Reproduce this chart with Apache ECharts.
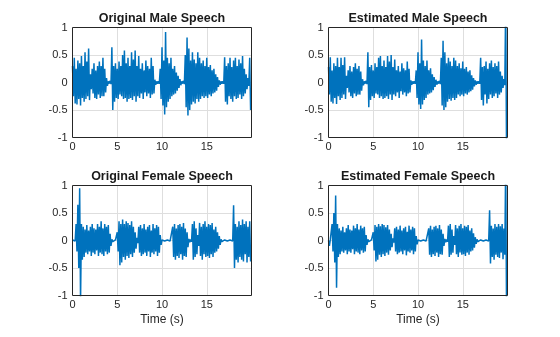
<!DOCTYPE html>
<html>
<head>
<meta charset="utf-8">
<script src="https://cdn.jsdelivr.net/npm/echarts@6/dist/echarts.min.js"></script>
<style>
html,body{margin:0;padding:0;background:#fff;}
#chart{width:560px;height:337px;}
</style>
</head>
<body>
<div id="chart"></div>
<script>
// sample times (s)
const time = [
0,0.1,0.2,0.3,0.4,0.5,0.6,0.7,0.8,0.9,1,1.1,1.2,1.3,1.4,1.5,1.6,1.7,1.8,1.9,
2,2.1,2.2,2.3,2.4,2.5,2.6,2.7,2.8,2.9,3,3.1,3.2,3.3,3.4,3.5,3.6,3.7,3.8,3.9,
4,4.1,4.2,4.3,4.4,4.5,4.6,4.7,4.8,4.9,5,5.1,5.2,5.3,5.4,5.5,5.6,5.7,5.8,5.9,
6,6.1,6.2,6.3,6.4,6.5,6.6,6.7,6.8,6.9,7,7.1,7.2,7.3,7.4,7.5,7.6,7.7,7.8,7.9,
8,8.1,8.2,8.3,8.4,8.5,8.6,8.7,8.8,8.9,9,9.1,9.2,9.3,9.4,9.5,9.6,9.7,9.8,9.9,
10,10.1,10.2,10.3,10.4,10.5,10.6,10.7,10.8,10.9,11,11.1,11.2,11.3,11.4,11.5,11.6,11.7,11.8,11.9,
12,12.1,12.2,12.3,12.4,12.5,12.6,12.7,12.8,12.9,13,13.1,13.2,13.3,13.4,13.5,13.6,13.7,13.8,13.9,
14,14.1,14.2,14.3,14.4,14.5,14.6,14.7,14.8,14.9,15,15.1,15.2,15.3,15.4,15.5,15.6,15.7,15.8,15.9,
16,16.1,16.2,16.3,16.4,16.5,16.6,16.7,16.8,16.9,17,17.1,17.2,17.3,17.4,17.5,17.6,17.7,17.8,17.9,
18,18.1,18.2,18.3,18.4,18.5,18.6,18.7,18.8,18.9,19,19.1,19.2,19.3,19.4,19.5,19.6,19.7,19.8,19.9
];

const originalMale = [
.30,-.25,.45,-.38,.25,-.40,.40,-.30,.35,-.42,.48,-.28,.30,-.35,.55,-.30,.38,-.25,.62,-.32,
.15,-.12,.25,-.20,.35,-.28,.22,-.30,.30,-.22,.38,-.28,.30,-.25,.45,-.25,.25,-.18,.08,-.06,
.02,-.02,.03,-.03,.64,-.50,.30,-.35,.35,-.28,.25,-.30,.38,-.22,.30,-.25,.50,-.30,.58,-.28,
.35,-.35,.45,-.30,.30,-.28,.55,-.32,.42,-.25,.58,-.35,.30,-.25,.48,-.28,.25,-.20,.35,-.30,
.22,-.18,.40,-.25,.30,-.20,.25,-.28,.45,-.22,.30,-.20,.05,-.04,.02,-.02,.02,-.02,.25,-.30,
.64,-.42,.40,-.58,.92,-.45,.45,-.35,.35,-.30,.45,-.25,.25,-.22,.30,-.20,.18,-.15,.12,-.10,
.06,-.05,.02,-.02,.03,-.03,.50,-.45,.82,-.60,.62,-.50,.40,-.40,.55,-.35,.42,-.38,.35,-.30,
.55,-.35,.45,-.30,.35,-.25,.40,-.28,.30,-.25,.45,-.28,.28,-.22,.32,-.25,.22,-.20,.25,-.18,
.15,-.15,.10,-.08,.04,-.04,.02,-.02,.02,-.02,.46,-.35,.30,-.40,.35,-.25,.45,-.30,.28,-.35,
.40,-.25,.45,-.30,.30,-.28,.42,-.22,.35,-.30,.48,-.25,.25,-.20,.15,-.12,.08,-.06,.45,-.50
];

const estimatedMale = [
.28,-.22,.46,-.35,.22,-.38,.35,-.28,.30,-.39,.45,-.25,.28,-.32,.45,-.28,.32,-.22,.46,-.30,
.12,-.10,.22,-.18,.30,-.25,.20,-.28,.28,-.20,.35,-.25,.25,-.22,.30,-.22,.20,-.15,.06,-.05,
.02,-.02,.03,-.03,.55,-.45,.28,-.32,.32,-.25,.22,-.28,.35,-.20,.28,-.22,.45,-.28,.48,-.25,
.30,-.30,.40,-.28,.28,-.25,.48,-.30,.38,-.22,.50,-.32,.28,-.22,.42,-.25,.22,-.18,.30,-.28,
.20,-.16,.35,-.22,.26,-.18,.22,-.25,.38,-.20,.25,-.18,.04,-.04,.02,-.02,.02,-.02,.22,-.28,
.55,-.40,.35,-.48,.78,-.40,.40,-.32,.30,-.28,.40,-.22,.22,-.20,.26,-.18,.15,-.14,.10,-.08,
.05,-.04,.02,-.02,.03,-.03,.45,-.42,.76,-.50,.55,-.45,.35,-.35,.45,-.30,.38,-.33,.30,-.28,
.45,-.32,.40,-.28,.30,-.22,.35,-.25,.26,-.22,.38,-.25,.25,-.20,.28,-.22,.20,-.18,.22,-.16,
.13,-.13,.08,-.07,.04,-.04,.02,-.02,.02,-.02,.45,-.32,.28,-.42,.30,-.22,.38,-.38,.25,-.30,
.35,-.22,.40,-.28,.28,-.25,.35,-.20,.30,-.28,.38,-.22,.20,-.18,.12,-.10,.06,-.05,1.5,-1.5
];

const originalFemale = [
.01,-.01,.01,-.01,.30,-.20,.65,-.50,.95,-1.1,.30,-.35,.25,-.30,.20,-.22,.28,-.25,.18,-.20,
.25,-.28,.30,-.22,.22,-.25,.20,-.18,.30,-.28,.25,-.22,.35,-.25,.22,-.28,.30,-.20,.25,-.25,
.28,-.22,.12,-.10,.02,-.02,.01,-.01,.01,-.01,.15,-.20,.35,-.45,.30,-.40,.38,-.30,.30,-.35,
.35,-.28,.32,-.32,.28,-.25,.35,-.30,.25,-.22,.15,-.15,.05,-.05,.25,-.22,.28,-.28,.22,-.25,
.30,-.22,.20,-.28,.25,-.20,.28,-.30,.18,-.22,.30,-.25,.22,-.20,.28,-.28,.25,-.22,.10,-.08,
.01,-.01,.01,-.01,.01,-.01,.01,-.01,.01,-.01,.01,-.01,.25,-.30,.30,-.35,.22,-.28,.28,-.32,
.30,-.25,.25,-.35,.32,-.28,.22,-.30,.15,-.12,.03,-.03,.02,-.02,.30,-.35,.35,-.30,.22,-.25,
.10,-.10,.32,-.28,.25,-.35,.30,-.25,.35,-.30,.25,-.28,.30,-.32,.28,-.25,.32,-.30,.20,-.22,
.25,-.20,.15,-.15,.08,-.08,.02,-.02,.01,-.01,.01,-.01,.01,-.01,.01,-.01,.01,-.01,.01,-.01,
.64,-.50,.30,-.35,.25,-.40,.35,-.30,.28,-.35,.38,-.38,.30,-.25,.35,-.40,.25,-.30,.35,-.38
];

const estimatedFemale = [
.00,-.10,.01,-.01,.30,-.20,.50,-.40,.82,-.86,.30,-.30,.22,-.25,.18,-.20,.25,-.22,.15,-.18,
.22,-.25,.28,-.20,.20,-.22,.18,-.16,.27,-.25,.22,-.20,.30,-.22,.20,-.25,.27,-.18,.22,-.22,
.25,-.20,.10,-.08,.02,-.02,.01,-.01,.01,-.01,.15,-.18,.28,-.38,.25,-.35,.30,-.26,.26,-.30,
.30,-.25,.28,-.28,.24,-.22,.28,-.26,.20,-.18,.12,-.12,.04,-.04,.22,-.20,.25,-.25,.20,-.22,
.27,-.20,.18,-.25,.22,-.18,.25,-.27,.16,-.20,.27,-.22,.20,-.18,.25,-.25,.22,-.20,.08,-.07,
.01,-.01,.01,-.01,.01,-.01,.01,-.01,.01,-.01,.01,-.01,.22,-.26,.27,-.30,.20,-.25,.25,-.28,
.27,-.22,.22,-.30,.28,-.25,.20,-.26,.12,-.10,.03,-.03,.02,-.02,.27,-.30,.30,-.26,.20,-.22,
.08,-.08,.28,-.25,.22,-.30,.27,-.22,.30,-.26,.22,-.25,.27,-.28,.25,-.22,.28,-.26,.18,-.20,
.22,-.18,.13,-.13,.06,-.06,.02,-.02,.01,-.01,.01,-.01,.01,-.01,.01,-.01,.01,-.01,.01,-.01,
.55,-.42,.27,-.30,.22,-.35,.30,-.26,.25,-.30,.30,-.32,.26,-.22,.30,-.34,.22,-.26,1.5,-1.5
];

const titles = ['Original Male Speech','Estimated Male Speech','Original Female Speech','Estimated Female Speech'];
const xTicks = [0,5,10,15];
const yTicks = [-1,-0.5,0,0.5,1];
const xLabel = 'Time (s)';

const seriesValues = [originalMale, estimatedMale, originalFemale, estimatedFemale];

const FONT = '"Liberation Sans", Arial, Helvetica, sans-serif';
const TXT = '#262626';
const grids = [
  {left:72.5, top:27.5, width:179, height:110},
  {left:328.5, top:27.5, width:179, height:110},
  {left:72.5, top:185.5, width:179, height:110},
  {left:328.5, top:185.5, width:179, height:110}
];

const option = {
  animation:false,
  backgroundColor:'#ffffff',
  title: grids.map((g,i)=>({
    text: titles[i],
    left: g.left + g.width/2,
    top: g.top - 15,
    padding:0,
    textAlign:'center',
    textStyle:{fontFamily:FONT,fontSize:12.5,fontWeight:'bold',color:'#1a1a1a'}
  })),
  grid: grids.map(g=>Object.assign({show:true,borderColor:'#262626',borderWidth:1,backgroundColor:'transparent',z:5},g)),
  xAxis: grids.map((g,i)=>({
    type:'value', gridIndex:i, min:0, max:20, interval:5,
    axisLine:{show:false}, axisTick:{show:false},
    splitLine:{show:true,showMinLine:false,showMaxLine:false,lineStyle:{color:'#dedede',width:1}},
    axisLabel:{fontFamily:FONT,fontSize:11,color:TXT,margin:4,showMaxLabel:false,
      formatter:v=> xTicks.indexOf(v)>=0 ? String(v) : ''},
    name: i>=2 ? xLabel : '',
    nameLocation:'middle', nameGap:18,
    nameTextStyle:{fontFamily:FONT,fontSize:12,color:TXT}
  })),
  yAxis: grids.map((g,i)=>({
    type:'value', gridIndex:i, min:-1, max:1, interval:0.5,
    axisLine:{show:false}, axisTick:{show:false},
    splitLine:{show:true,showMinLine:false,showMaxLine:false,lineStyle:{color:'#dedede',width:1}},
    axisLabel:{fontFamily:FONT,fontSize:11,color:TXT,margin:5,
      formatter:v=> yTicks.indexOf(v)>=0 ? String(v) : ''}
  })),
  series: seriesValues.map((vals,i)=>({
    type:'line', xAxisIndex:i, yAxisIndex:i,
    showSymbol:false, symbol:'none', clip:true, sampling:null,
    lineStyle:{color:'#0072BD',width:1.5},
    data: vals.map((v,k)=>[time[k], v]),
    z:3
  }))
};

const chart = echarts.init(document.getElementById('chart'), null, {renderer:'canvas'});
chart.setOption(option);
</script>
</body>
</html>
